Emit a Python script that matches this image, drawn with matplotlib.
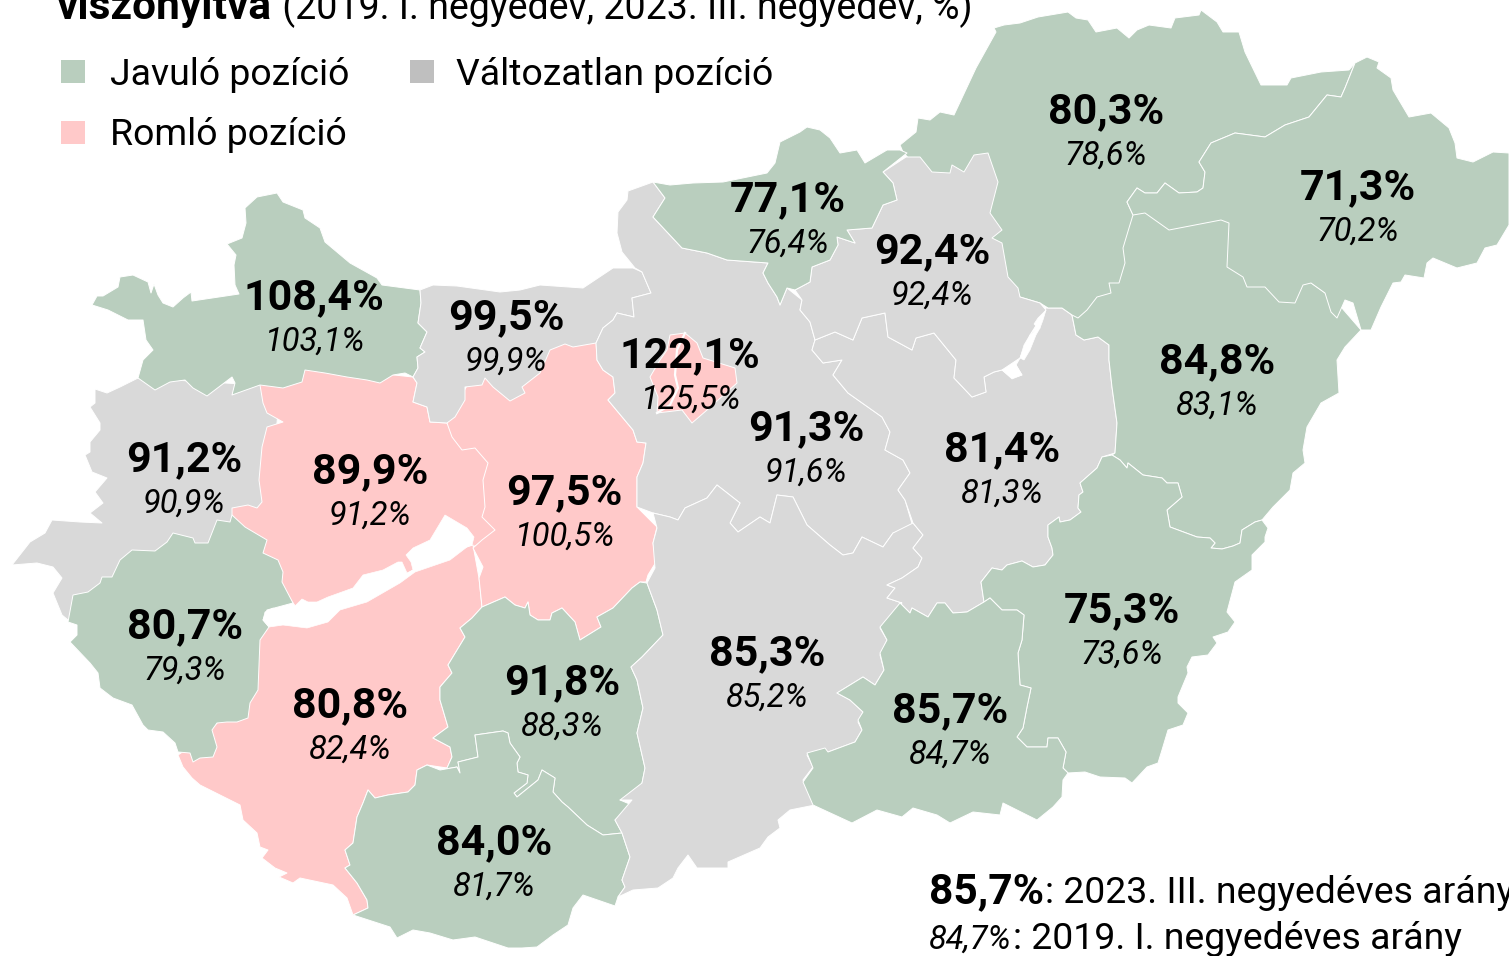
import matplotlib
matplotlib.use("Agg")
import matplotlib.pyplot as plt
from matplotlib.patches import Polygon, Rectangle

GREEN = "#b9cebe"
GRAY = "#d9d9d9"
PINK = "#ffc9c9"
LEG_GRAY = "#bfbfbf"
plt.rcParams["font.family"] = ["Roboto", "DejaVu Sans"]

# ---- data -----------------------------------------------------------------
counties = ["Vas", "Veszprem", "Somogy", "Zala", "Gyor", "Fejer", "Komarom", "Tolna", "Baranya", "Pest",
            "Budapest", "Bacs", "Szolnok", "Hajdu", "Borsod", "Szabolcs", "Heves", "Nograd", "Bekes", "Csongrad"]
value_2023 = ["91,2%", "89,9%", "80,8%", "80,7%", "108,4%", "97,5%", "99,5%", "91,8%", "84,0%", "91,3%",
              "122,1%", "85,3%", "81,4%", "84,8%", "80,3%", "71,3%", "92,4%", "77,1%", "75,3%", "85,7%"]
value_2019 = ["90,9%", "91,2%", "82,4%", "79,3%", "103,1%", "100,5%", "99,9%", "88,3%", "81,7%", "91,6%",
              "125,5%", "85,2%", "81,3%", "83,1%", "78,6%", "70,2%", "92,4%", "76,4%", "73,6%", "84,7%"]
status = ["same", "worse", "worse", "better", "better", "worse", "same", "better", "better", "same",
          "worse", "same", "same", "better", "better", "better", "same", "better", "better", "better"]
label_x = [184, 370, 350, 185, 314, 564, 506, 562, 494, 806, 690, 767, 1002, 1217, 1106, 1358, 932, 788, 1122, 950]
label_y = [458, 470, 704, 625, 296, 491, 316, 681, 841, 427, 354, 652, 448, 360, 110, 186, 250, 198, 609, 709]

legend_labels = ["Javuló pozíció", "Változatlan pozíció", "Romló pozíció"]
title_bold = "viszonyítva"
title_rest = " (2019. I. negyedév, 2023. III. negyedév, %)"
note_a = ("85,7%", ": 2023. III. negyedéves arány")
note_b = ("84,7%", ": 2019. I. negyedéves arány")

Vas = [(138,378),(120,387),(107,393),(95,389),(95,403),(90,407),(100,423),(100,430),(90,442),(90,452),(85,455),
       (92,472),(107,478),(95,492),(103,503),(90,513),(102,523),(80,522),(52,520),(45,533),(30,542),(12,565),
       (37,563),(53,567),(62,578),(53,593),(62,615),(68,620),(120,600),(230,540),(270,500),(280,390),(260,385)]
Veszprem = [(260,380),(260,385),(263,403),(267,413),(283,422),(267,427),(262,447),(259,480),(262,502),(257,508),
            (248,505),(232,508),(232,515),(250,540),(270,560),(285,590),(293,603),(300,612),(380,590),(430,560),
            (478,545),(500,530),(500,450),(447,423),(430,422),(427,407),(413,402),(417,383),(413,377),(300,365)]
Somogy = [(262,622),(300,618),(380,590),(440,555),(473,545),(479,578),(482,607),(472,618),(460,628),(465,637),
          (448,665),(452,673),(440,687),(440,700),(448,727),(433,738),(450,747),(452,757),(447,768),(427,765),
          (417,770),(415,785),(408,792),(388,795),(375,798),(368,790),(363,803),(357,817),(353,843),(345,850),
          (350,865),(345,868),(357,883),(367,900),(368,908),(353,915),(347,898),(333,885),(300,878),(293,883),
          (279,877),(287,873),(275,868),(262,858),(268,850),(260,847),(257,833),(243,820),(240,805),(200,785),
          (192,778),(183,767),(178,755),(200,740),(240,700)]
Zala = [(68,622),(73,595),(88,592),(100,583),(102,577),(112,577),(120,560),(132,550),(155,551),(167,542),(173,533),
        (193,538),(195,543),(208,543),(217,520),(230,522),(232,515),(245,527),(267,540),(263,553),(278,560),
        (283,572),(282,582),(293,603),(267,610),(263,620),(269,627),(260,640),(258,690),(250,703),(248,718),
        (237,722),(227,722),(217,723),(212,730),(217,747),(213,757),(200,758),(193,762),(190,753),(178,752),
        (175,743),(163,732),(148,730),(143,725),(132,705),(113,698),(100,688),(98,673),(90,663),(70,642),
        (77,635),(77,625)]
Gyor = [(92,305),(97,296),(103,296),(118,287),(120,277),(133,275),(148,282),(151,293),(154,284),(158,295),(163,303),
        (173,307),(183,298),(191,292),(192,301),(239,294),(235,285),(234,265),(236,255),(227,244),(242,238),
        (246,223),(245,208),(257,197),(277,193),(283,202),(303,210),(305,218),(320,228),(325,242),(350,263),
        (377,278),(382,285),(420,290),(421,303),(418,323),(427,332),(420,348),(425,352),(417,357),(418,368),
        (413,377),(405,373),(393,375),(380,383),(367,380),(347,377),(325,373),(305,370),(302,382),(283,388),
        (260,385),(232,395),(235,383),(232,377),(207,396),(193,388),(185,380),(170,382),(155,390),(138,378),
        (143,360),(153,350),(146,340),(143,320),(128,320),(108,310)]
Fejer = [(447,423),(470,380),(550,340),(596,340),(597,360),(603,370),(613,377),(615,393),(608,400),(633,430),
         (637,442),(646,443),(643,463),(637,477),(637,507),(657,527),(653,543),(656,562),(648,575),(646,582),
         (640,582),(632,588),(613,608),(597,617),(601,627),(580,640),(575,622),(562,608),(552,613),(550,620),
         (538,620),(530,615),(528,602),(525,608),(515,605),(505,597),(482,607),(479,578),(483,567),(473,548),
         (482,540),(495,530),(482,517),(485,507),(483,480),(488,463),(475,448),(462,450),(452,437)]
Komarom = [(420,290),(433,285),(457,286),(500,292),(520,290),(540,285),(583,288),(607,272),(613,268),(633,268),
           (642,272),(651,293),(632,298),(634,317),(617,313),(613,320),(603,328),(596,343),(573,347),(565,344),
           (550,350),(540,373),(522,387),(525,393),(510,401),(493,387),(485,378),(482,385),(465,387),(465,400),
           (455,417),(447,423),(430,422),(427,407),(413,402),(417,383),(413,377),(418,368),(417,357),(425,352),
           (420,348),(427,332),(418,323),(421,303)]
Tolna = [(640,582),(647,583),(657,610),(663,635),(642,657),(631,667),(637,680),(643,708),(637,733),(645,768),
         (642,783),(632,800),(620,800),(632,805),(615,820),(622,833),(603,835),(587,825),(568,807),(562,802),
         (553,792),(555,778),(542,770),(538,780),(517,797),(514,793),(527,783),(528,775),(518,772),(517,763),
         (520,757),(510,743),(508,733),(503,731),(475,735),(478,757),(458,762),(460,773),(457,767),(440,770),
         (447,768),(452,757),(450,747),(433,738),(448,727),(440,700),(440,687),(452,673),(448,665),(465,637),
         (460,628),(472,618),(482,607),(505,597),(515,605),(525,608),(528,602),(530,615),(538,620),(550,620),
         (552,613),(562,608),(575,622),(580,640),(601,627),(597,617),(613,608),(632,588)]
Baranya = [(368,908),(367,900),(357,883),(345,868),(350,865),(345,850),(353,843),(357,817),(363,803),(368,790),
           (375,798),(388,795),(408,792),(415,785),(417,770),(427,765),(440,770),(457,767),(460,773),(458,762),
           (478,757),(475,735),(503,731),(508,733),(510,743),(520,757),(517,763),(518,772),(528,775),(527,783),
           (514,793),(517,797),(538,780),(542,770),(555,778),(553,792),(562,802),(568,807),(587,825),(603,835),
           (622,833),(630,857),(622,880),(625,887),(618,897),(615,906),(583,895),(573,908),(568,925),(553,935),
           (537,947),(522,948),(508,948),(475,937),(453,940),(430,933),(413,930),(397,938),(390,927),(353,915)]
Pest = [(653,182),(628,191),(627,200),(618,212),(617,233),(622,252),(635,268),(642,272),(651,293),(632,298),
        (634,317),(617,313),(613,320),(603,328),(596,343),(597,360),(603,370),(613,377),(615,393),(608,400),
        (633,430),(637,442),(646,443),(643,463),(637,477),(637,507),(653,513),(670,517),(678,520),(685,508),
        (707,498),(717,485),(740,503),(730,523),(738,532),(760,517),(770,523),(777,495),(793,497),(807,525),
        (830,545),(843,555),(853,553),(862,537),(883,547),(893,533),(913,527),(905,500),(898,490),(910,473),
        (903,460),(885,450),(890,432),(882,417),(848,393),(833,375),(842,360),(823,363),(812,350),(815,340),
        (810,322),(800,310),(802,300),(787,288),(780,305),(777,297),(768,283),(763,273),(768,263),(727,260),
        (707,253),(682,248),(653,217),(665,198)]
Budapest = [(670,335),(685,333),(697,343),(703,358),(735,368),(737,383),(707,410),(692,423),(682,410),(657,413),
            (658,397),(650,377),(660,360),(667,350)]
Bacs = [(657,528),(653,513),(670,517),(678,520),(685,508),(707,498),(717,485),(740,503),(730,523),(738,532),
        (760,517),(770,523),(777,495),(793,497),(807,525),(830,545),(843,555),(853,553),(862,537),(883,547),
        (893,533),(913,523),(923,535),(913,548),(922,558),(918,567),(902,578),(887,585),(895,588),(887,598),
        (902,603),(880,628),(887,640),(880,655),(884,670),(875,685),(863,677),(837,693),(850,700),(863,712),
        (858,722),(862,730),(855,742),(828,752),(807,755),(813,767),(803,780),(815,805),(790,810),(778,820),
        (780,828),(768,837),(760,848),(728,862),(728,868),(697,868),(688,855),(678,868),(673,878),(658,888),
        (633,890),(618,897),(625,887),(622,880),(630,857),(622,833),(615,820),(632,800),(620,800),(642,783),
        (645,768),(637,733),(643,708),(637,680),(631,667),(642,657),(663,635),(657,610),(647,583),(655,568),
        (653,543)]
Szolnok = [(815,340),(835,332),(853,340),(862,318),(885,313),(888,337),(912,350),(916,338),(934,333),(956,360),
           (954,378),(972,397),(986,392),(984,377),(994,372),(1002,370),(1012,378),(1022,375),(1016,365),(1020,358),
           (1022,347),(1030,333),(1040,328),(1034,322),(1046,308),(1062,308),(1072,315),(1076,335),(1084,340),
           (1098,337),(1109,345),(1109,360),(1112,387),(1117,423),(1115,453),(1102,457),(1097,468),(1080,483),
           (1083,492),(1079,495),(1078,508),(1081,512),(1070,520),(1060,522),(1059,517),(1048,525),(1048,537),
           (1052,548),(1053,555),(1045,565),(1033,567),(1022,561),(1007,565),(1002,570),(992,568),(981,582),
           (984,602),(967,612),(953,613),(945,603),(937,603),(928,617),(912,608),(910,613),(900,603),(902,603),
           (887,598),(895,588),(887,585),(902,578),(918,567),(922,558),(913,548),(923,535),(913,523),(905,500),
           (898,490),(910,473),(903,460),(885,450),(890,432),(882,417),(848,393),(833,375),(842,360),(823,363),
           (812,350)]
Hajdu = [(1072,315),(1100,280),(1133,205),(1225,205),(1240,260),(1300,275),(1335,300),(1361,330),(1345,347),
         (1337,360),(1339,393),(1321,403),(1307,427),(1303,450),(1305,463),(1293,473),(1290,490),(1273,507),
         (1262,520),(1255,522),(1242,530),(1240,543),(1233,546),(1222,549),(1211,548),(1215,543),(1210,538),
         (1197,537),(1170,527),(1167,510),(1182,497),(1178,483),(1167,483),(1162,478),(1143,475),(1128,463),
         (1127,468),(1120,460),(1112,455),(1115,453),(1117,423),(1112,387),(1109,360),(1109,345),(1098,337),
         (1084,340),(1076,335)]
Borsod = [(900,145),(916,132),(918,118),(930,120),(940,112),(954,115),(976,68),(996,32),(994,28),(1004,25),(1020,23),
          (1038,17),(1068,12),(1076,18),(1088,20),(1096,32),(1117,28),(1129,38),(1137,30),(1149,25),(1171,28),
          (1175,18),(1199,15),(1201,10),(1217,22),(1223,32),(1239,32),(1245,52),(1261,85),(1287,85),(1291,78),
          (1321,72),(1349,70),(1355,63),(1345,88),(1341,97),(1327,95),(1309,117),(1285,125),(1265,137),(1235,133),
          (1211,143),(1199,162),(1205,172),(1203,188),(1197,192),(1179,193),(1165,183),(1157,193),(1145,193),
          (1137,188),(1127,202),(1133,215),(1129,228),(1123,248),(1125,263),(1119,283),(1109,283),(1111,293),
          (1097,297),(1087,310),(1078,318),(1072,315),(1062,308),(1048,308),(1040,303),(1020,297),(990,250),
          (950,200),(910,160),(903,152)]
Szabolcs = [(1355,63),(1367,57),(1379,62),(1377,68),(1391,78),(1393,90),(1409,117),(1431,113),(1449,128),(1455,143),
            (1457,158),(1473,162),(1493,152),(1509,153),(1509,225),(1497,245),(1485,248),(1477,263),(1457,268),
            (1433,258),(1427,263),(1424,278),(1405,275),(1401,282),(1393,283),(1381,307),(1371,330),(1361,330),
            (1353,303),(1345,300),(1337,318),(1331,312),(1325,293),(1311,283),(1303,285),(1295,303),(1279,302),
            (1265,287),(1247,287),(1243,277),(1227,267),(1229,223),(1221,220),(1169,230),(1145,213),(1133,215),
            (1127,202),(1137,188),(1145,193),(1157,193),(1165,183),(1179,193),(1197,192),(1203,188),(1205,172),
            (1199,162),(1211,143),(1235,133),(1265,137),(1285,125),(1309,117),(1327,95),(1341,97),(1345,88)]
Heves = [(906,157),(920,157),(932,172),(950,173),(952,165),(964,172),(974,155),(988,153),(998,182),(990,213),
         (1002,230),(992,238),(1002,243),(1008,277),(1018,288),(1020,297),(1040,303),(1046,310),(1030,335),
         (1020,358),(1002,370),(994,372),(984,377),(986,392),(972,397),(954,378),(956,360),(934,333),(916,338),
         (912,350),(888,337),(885,313),(862,318),(853,340),(835,332),(815,340),(810,322),(800,310),(802,300),
         (795,290),(810,282),(812,267),(830,260),(838,245),(837,237),(855,243),(847,230),(872,228),(883,205),
         (897,200),(893,183),(883,172)]
Nograd = [(653,182),(670,185),(693,183),(723,182),(767,173),(775,163),(780,142),(800,132),(807,127),(820,130),
          (830,138),(840,153),(857,150),(865,163),(887,150),(900,150),(907,153),(883,172),(893,183),(897,200),
          (883,205),(872,228),(847,230),(855,243),(837,237),(838,245),(830,260),(812,267),(810,282),(795,290),
          (787,288),(780,305),(777,297),(768,283),(763,273),(768,263),(727,260),(707,253),(682,248),(653,217),
          (665,198)]
Bekes = [(1112,455),(1120,460),(1127,468),(1128,463),(1143,475),(1162,478),(1167,483),(1178,483),(1182,497),
         (1167,510),(1170,527),(1197,537),(1210,538),(1215,543),(1211,548),(1222,549),(1233,546),(1240,543),
         (1242,530),(1255,522),(1262,520),(1268,528),(1265,537),(1265,542),(1252,555),(1252,570),(1235,582),
         (1227,612),(1235,622),(1228,632),(1213,637),(1217,643),(1208,655),(1192,657),(1187,667),(1188,673),
         (1178,697),(1178,703),(1188,713),(1183,725),(1168,730),(1162,750),(1158,763),(1147,767),(1132,783),
         (1125,778),(1100,777),(1085,772),(1068,773),(1063,768),(1066,752),(1058,738),(1048,738),(1047,747),
         (1027,747),(1017,737),(1023,728),(1027,707),(1031,688),(1020,685),(1018,653),(1022,640),(1024,615),
         (1017,610),(1002,610),(990,598),(984,602),(981,582),(992,568),(1002,570),(1007,565),(1022,561),(1033,567),
         (1045,565),(1053,555),(1052,548),(1048,537),(1048,525),(1059,517),(1060,522),(1070,520),(1081,512),
         (1078,508),(1079,495),(1083,492),(1080,483),(1097,468),(1102,457)]
Csongrad = [(900,603),(910,613),(912,608),(928,617),(937,603),(945,603),(953,613),(967,612),(984,602),(990,598),
            (1002,610),(1017,610),(1024,615),(1022,640),(1018,653),(1020,685),(1031,688),(1027,707),(1023,728),
            (1017,737),(1027,747),(1047,747),(1048,738),(1058,738),(1066,752),(1063,768),(1068,773),(1063,780),
            (1062,797),(1053,807),(1037,820),(1003,803),(1000,815),(973,812),(950,823),(937,815),(913,808),(902,817),
            (877,810),(852,823),(813,805),(803,782),(813,768),(807,753),(825,748),(828,752),(855,742),(862,730),
            (858,720),(863,712),(850,700),(837,693),(863,677),(875,685),(884,670),(880,653),(887,640),(880,627)]
balaton = [(265,612),(273,608),(288,613),(302,599),(308,602),(317,602),(328,597),(342,592),(353,588),(363,575),
           (383,570),(398,562),(402,562),(407,573),(413,570),(411,562),(406,555),(413,548),(430,540),(445,515),
           (467,528),(474,537),(472,545),(467,547),(450,560),(415,572),(400,583),(367,602),(340,610),(328,622),
           (307,628),(283,625),(269,627),(263,620)]
tisza_north = [(1046,310),(1038,318),(1034,324),(1038,328),(1030,335),(1024,345),(1020,358),(1024,360),(1030,350),
               (1036,335),(1040,328),(1043,320)]
tisza_south = [(1002,370),(1016,365),(1022,375),(1012,379)]
danube = [(685,333),(677,350),(675,375),(678,388),(670,405),(657,413)]
outlines = [Vas, Veszprem, Somogy, Zala, Gyor, Fejer, Komarom, Tolna, Baranya, Pest,
            Budapest, Bacs, Szolnok, Hajdu, Borsod, Szabolcs, Heves, Nograd, Bekes, Csongrad]

# ---- figure ---------------------------------------------------------------
fig = plt.figure(figsize=(15.09, 9.56), dpi=100)
ax = fig.add_axes([0, 0, 1, 1])
ax.set_xlim(0, 1509)
ax.set_ylim(956, 0)
ax.axis("off")

fill = {"better": GREEN, "same": GRAY, "worse": PINK}
for outline, st in zip(outlines, status):
    ax.add_patch(Polygon(outline, closed=True, facecolor=fill[st], edgecolor="white", linewidth=0.7, joinstyle="round"))
for lake in (balaton, tisza_north, tisza_south):
    ax.add_patch(Polygon(lake, closed=True, facecolor="white", edgecolor="white", linewidth=0.5))
ax.plot(*zip(*danube), color="white", lw=1.6)

for x, y, a, b in zip(label_x, label_y, value_2023, value_2019):
    ax.text(x, y + 2, a, fontsize=31, fontweight="bold", ha="center", va="center", color="black")
    ax.text(x, y + 46, b, fontsize=23.5, style="italic", ha="center", va="center", color="black")

# legend
for (sx, sy), col in zip([(61, 60), (410, 60), (61, 121)], [GREEN, LEG_GRAY, PINK]):
    ax.add_patch(Rectangle((sx, sy), 24, 23, facecolor=col, edgecolor="none"))
for (tx, ty), lab in zip([(110, 75), (456, 75), (110, 135)], legend_labels):
    ax.text(tx, ty, lab, fontsize=26.95, ha="left", va="center", color="black")

# title and note: two styled runs placed side by side
def pair(x, y, first, second, kw1, kw2):
    r = fig.canvas.get_renderer()
    t = ax.text(x, y, first, ha="left", va="baseline", color="black", **kw1)
    x2 = t.get_window_extent(r).x1 + 1
    ax.text(x2, y, second, ha="left", va="baseline", color="black", **kw2)

pair(57, 19, title_bold, title_rest, dict(fontsize=30.5, fontweight="bold"), dict(fontsize=27))
pair(929, 903, note_a[0], note_a[1], dict(fontsize=30.6, fontweight="bold"), dict(fontsize=26.9))
pair(929, 949, note_b[0], note_b[1], dict(fontsize=23.5, style="italic"), dict(fontsize=26.9))

fig.savefig("out.png", dpi=100)
